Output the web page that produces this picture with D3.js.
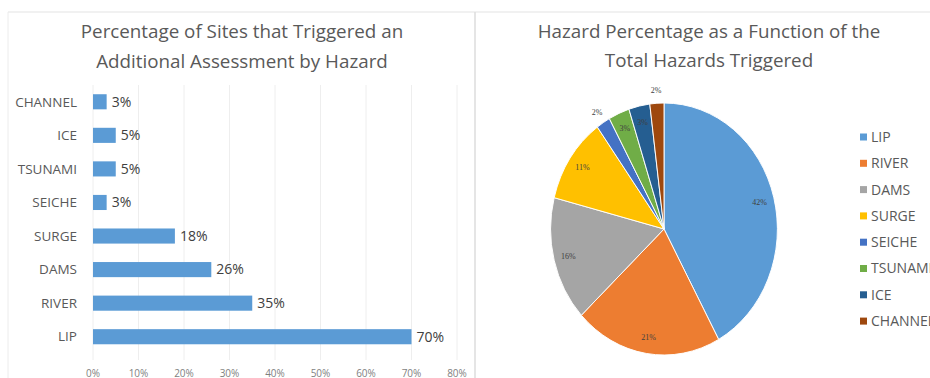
<!DOCTYPE html>
<html>
<head>
<meta charset="utf-8">
<script src="https://cdn.jsdelivr.net/npm/d3@7"></script>
<style>
  body { margin: 0; background: #fff; }
  svg { display: block; font-family: "Open Sans", "Noto Sans", sans-serif; }
</style>
</head>
<body>
<svg width="930" height="378"></svg>
<script>
// bar chart data (top to bottom)
const barCats = ["CHANNEL", "ICE", "TSUNAMI", "SEICHE", "SURGE", "DAMS", "RIVER", "LIP"];
const barVals = [3, 5, 5, 3, 18, 26, 35, 70];
const xTicks = [0, 10, 20, 30, 40, 50, 60, 70, 80];

// pie data
const pieCats = ["LIP", "RIVER", "DAMS", "SURGE", "SEICHE", "TSUNAMI", "ICE", "CHANNEL"];
const pieVals = [42, 21, 16, 11, 2, 3, 3, 2];
const pieColors = ["#5b9bd5", "#ed7d31", "#a5a5a5", "#ffc000", "#4472c4", "#70ad47", "#255e91", "#9e480e"];

const svg = d3.select("svg");

// panel borders
svg.append("line").attr("x1", 8).attr("x2", 930).attr("y1", 12).attr("y2", 12)
  .attr("stroke", "#e3e3e3").attr("stroke-width", 1);
svg.append("line").attr("x1", 8).attr("x2", 8).attr("y1", 12).attr("y2", 378)
  .attr("stroke", "#ececec").attr("stroke-width", 1);
svg.append("line").attr("x1", 475).attr("x2", 475).attr("y1", 12).attr("y2", 378)
  .attr("stroke", "#dcdcdc").attr("stroke-width", 1.5);

// ---- left: bar chart ----
const left = svg.append("g");
left.selectAll("text.title")
  .data(["Percentage of Sites that Triggered an", "Additional Assessment by Hazard"])
  .enter().append("text")
  .attr("x", 242)
  .attr("y", (d, i) => 38 + i * 30)
  .attr("text-anchor", "middle")
  .attr("font-size", 18.8)
  .attr("fill", "#595959")
  .text(d => d);

const x = d3.scaleLinear().domain([0, 80]).range([93, 457]);
const y = d3.scaleBand().domain(barCats).range([85, 353.5]).paddingInner(0.55).paddingOuter(0.275);

left.selectAll("line.grid")
  .data(xTicks)
  .enter().append("line")
  .attr("x1", d => x(d)).attr("x2", d => x(d))
  .attr("y1", 85).attr("y2", 360)
  .attr("stroke", "#eeeeee");

left.selectAll("rect")
  .data(barVals)
  .enter().append("rect")
  .attr("x", x(0))
  .attr("y", (d, i) => y(barCats[i]))
  .attr("width", d => x(d) - x(0))
  .attr("height", y.bandwidth())
  .attr("fill", "#5b9bd5");

left.selectAll("text.val")
  .data(barVals)
  .enter().append("text")
  .attr("x", d => x(d) + 5)
  .attr("y", (d, i) => y(barCats[i]) + y.bandwidth() / 2)
  .attr("dy", "0.35em")
  .attr("font-size", 14)
  .attr("fill", "#404040")
  .text(d => d + "%");

left.selectAll("text.cat")
  .data(barCats)
  .enter().append("text")
  .attr("x", 77)
  .attr("y", d => y(d) + y.bandwidth() / 2)
  .attr("dy", "0.35em")
  .attr("text-anchor", "end")
  .attr("font-size", 13.5)
  .attr("fill", "#595959")
  .text(d => d);

left.selectAll("text.tick")
  .data(xTicks)
  .enter().append("text")
  .attr("x", d => x(d))
  .attr("y", 373)
  .attr("dy", "0.35em")
  .attr("text-anchor", "middle")
  .attr("font-size", 10)
  .attr("fill", "#7f7f7f")
  .text(d => d + "%");

// ---- right: pie chart ----
const right = svg.append("g");
right.selectAll("text.title")
  .data(["Hazard Percentage as a Function of the", "Total Hazards Triggered"])
  .enter().append("text")
  .attr("x", 709)
  .attr("y", (d, i) => 38 + i * 29)
  .attr("text-anchor", "middle")
  .attr("font-size", 18.8)
  .attr("fill", "#595959")
  .text(d => d);

const R = 126;
const pieData = d3.pie().sort(null)(pieVals);
const arc = d3.arc().innerRadius(0).outerRadius(R);
const pg = right.append("g").attr("transform", "translate(664,229) scale(0.9,1)");

pg.selectAll("path")
  .data(pieData)
  .enter().append("path")
  .attr("d", arc)
  .attr("fill", (d, i) => pieColors[i])
  .attr("stroke", "#fff")
  .attr("stroke-width", 1);

right.selectAll("text.plab")
  .data(pieData)
  .enter().append("text")
  .attr("transform", d => {
    const r = d.data <= 2 ? R * 1.1 : R * 0.87;
    const a = (d.startAngle + d.endAngle) / 2;
    return `translate(${664 + Math.sin(a) * r * 0.9},${229 - Math.cos(a) * r})`;
  })
  .attr("dy", "0.35em")
  .attr("text-anchor", "middle")
  .attr("font-size", 8)
  .attr("font-family", "Liberation Serif, serif")
  .attr("fill", "#404040")
  .text(d => d.data + "%");

// legend
const lg = right.selectAll("g.leg")
  .data(pieCats)
  .enter().append("g")
  .attr("transform", (d, i) => `translate(860,${137 + i * 26.3})`);
lg.append("rect")
  .attr("x", 0).attr("y", -3.5)
  .attr("width", 7).attr("height", 7)
  .attr("fill", (d, i) => pieColors[i]);
lg.append("text")
  .attr("x", 11)
  .attr("dy", "0.35em")
  .attr("font-size", 14)
  .attr("fill", "#595959")
  .text(d => d);
</script>
</body>
</html>
